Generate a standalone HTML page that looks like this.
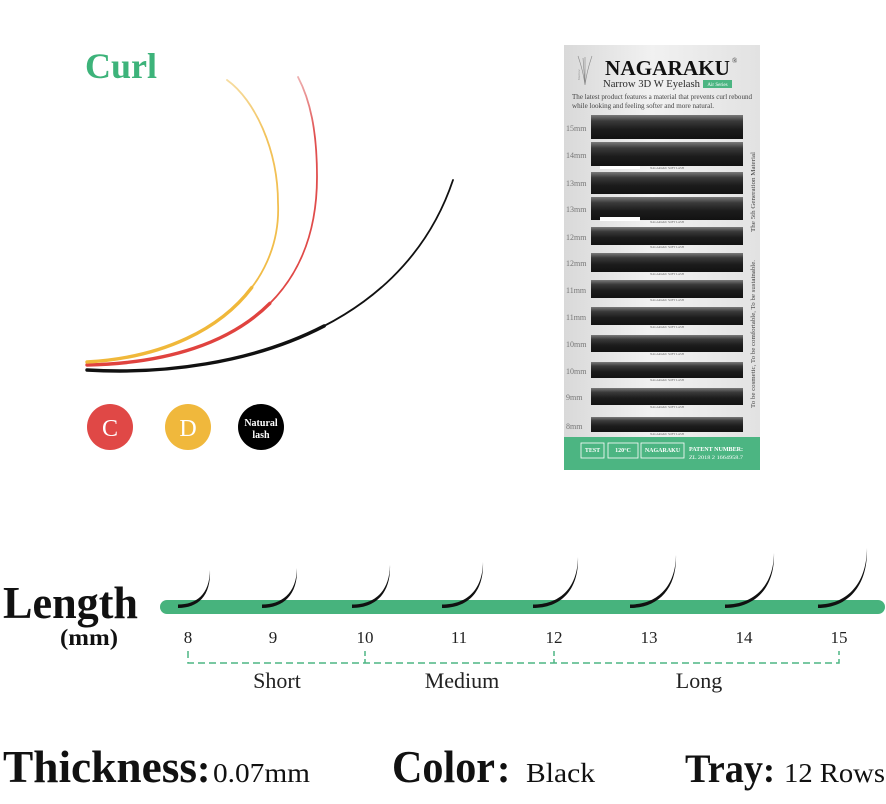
<!DOCTYPE html>
<html><head><meta charset="utf-8"><style>
html,body{margin:0;padding:0;background:#fff;}
svg{display:block;}
text{font-family:"Liberation Serif",serif;}
</style></head><body>
<svg width="886" height="804" viewBox="0 0 886 804" xmlns="http://www.w3.org/2000/svg">
<defs>
<linearGradient id="cardbg" x1="0" y1="0" x2="1" y2="0">
<stop offset="0" stop-color="#d9d9d9"/><stop offset="0.45" stop-color="#f1f1f1"/><stop offset="1" stop-color="#e2e2e2"/>
</linearGradient>
<linearGradient id="row" x1="0" y1="0" x2="0" y2="1">
<stop offset="0" stop-color="#7a7a7a"/><stop offset="0.25" stop-color="#3a3a3a"/><stop offset="0.6" stop-color="#1c1c1c"/><stop offset="1" stop-color="#121212"/>
</linearGradient>
<linearGradient id="fadeY" x1="0" y1="1" x2="0" y2="0">
<stop offset="0" stop-color="#f0b83a"/><stop offset="0.8" stop-color="#f2c25a"/><stop offset="1" stop-color="#f6dca0"/>
</linearGradient>
<linearGradient id="fadeR" x1="0" y1="1" x2="0" y2="0">
<stop offset="0" stop-color="#e0433f"/><stop offset="0.8" stop-color="#e05050"/><stop offset="1" stop-color="#eeb0b0"/>
</linearGradient>
</defs>

<!-- Curl title -->
<text x="85" y="78" font-size="36" font-weight="bold" fill="#3db37a">Curl</text>

<!-- Curves -->
<path d="M87,370 C220,378 400,338 453,180" fill="none" stroke="#111" stroke-width="1.8" stroke-linecap="round"/>
<path d="M87,370 C220,378 400,338 453,180" pathLength="100" stroke-dasharray="55 200" fill="none" stroke="#111" stroke-width="3.4" stroke-linecap="round"/>
<path d="M87,365 C230,362 317,300 317,177 C317,130 310,100 298,77" fill="none" stroke="url(#fadeR)" stroke-width="1.8" stroke-linecap="round"/>
<path d="M87,365 C230,362 317,300 317,177 C317,130 310,100 298,77" pathLength="100" stroke-dasharray="45 200" fill="none" stroke="#e0433f" stroke-width="3.4" stroke-linecap="round"/>
<path d="M87,362 C210,355 282,285 278,203 C278,150 255,100 227,80" fill="none" stroke="url(#fadeY)" stroke-width="1.8" stroke-linecap="round"/>
<path d="M87,362 C210,355 282,285 278,203 C278,150 255,100 227,80" pathLength="100" stroke-dasharray="45 200" fill="none" stroke="#f0b83a" stroke-width="3.4" stroke-linecap="round"/>

<!-- Circles -->
<circle cx="110" cy="427" r="23" fill="#e04846"/>
<text x="110" y="436" font-size="24" fill="#fff" text-anchor="middle">C</text>
<circle cx="188" cy="427" r="23" fill="#f0b83c"/>
<text x="188" y="436" font-size="24" fill="#fff" text-anchor="middle">D</text>
<circle cx="261" cy="427" r="23" fill="#000"/>
<text x="261" y="426" font-size="10" font-weight="bold" fill="#fff" text-anchor="middle">Natural</text>
<text x="261" y="438" font-size="10" font-weight="bold" fill="#fff" text-anchor="middle">lash</text>

<!-- Product card -->
<rect x="564" y="45" width="196" height="392" fill="url(#cardbg)"/>
<g stroke="#888" stroke-width="0.6" fill="none">
<path d="M585,85 L585,57 M585,85 C583,70 580,62 578,56 M585,85 C587,70 590,62 592,56 M585,85 L583,58"/>
</g>
<text x="0" y="0" font-size="3.5" fill="#888" transform="translate(580,80) rotate(-90)">Narrow</text>
<text x="605" y="75" font-size="21" font-weight="bold" fill="#111" textLength="125" lengthAdjust="spacingAndGlyphs">NAGARAKU</text>
<text x="732" y="63" font-size="7" fill="#333">®</text>
<text x="603" y="87" font-size="11" fill="#2a2a2a" textLength="97" lengthAdjust="spacingAndGlyphs">Narrow 3D W Eyelash</text>
<rect x="703" y="80" width="29" height="8" fill="#4cb582"/>
<text x="717.5" y="86" font-size="5" fill="#fff" text-anchor="middle">Air Series</text>
<text x="572" y="99" font-size="7.4" fill="#444" textLength="180" lengthAdjust="spacingAndGlyphs">The latest product features a material that prevents curl rebound</text>
<text x="572" y="108" font-size="7.4" fill="#444" textLength="142" lengthAdjust="spacingAndGlyphs">while looking and feeling softer and more natural.</text>

<g fill="url(#row)">
<rect x="591" y="115" width="152" height="24"/>
<rect x="591" y="142" width="152" height="24"/>
<rect x="591" y="172" width="152" height="22"/>
<rect x="591" y="197" width="152" height="23"/>
<rect x="591" y="227" width="152" height="18"/>
<rect x="591" y="253" width="152" height="19"/>
<rect x="591" y="280" width="152" height="18"/>
<rect x="591" y="307" width="152" height="18"/>
<rect x="591" y="335" width="152" height="17"/>
<rect x="591" y="362" width="152" height="16"/>
<rect x="591" y="388" width="152" height="17"/>
<rect x="591" y="417" width="152" height="15"/>
</g>
<rect x="600" y="217" width="40" height="4" fill="#fff"/>
<rect x="600" y="166" width="40" height="3" fill="#fff"/>
<g font-size="3" fill="#666" text-anchor="middle">
<text x="667" y="169">NAGARAKU SOFT LASH</text>
<text x="667" y="223">NAGARAKU SOFT LASH</text>
<text x="667" y="248">NAGARAKU SOFT LASH</text>
<text x="667" y="275">NAGARAKU SOFT LASH</text>
<text x="667" y="301">NAGARAKU SOFT LASH</text>
<text x="667" y="328">NAGARAKU SOFT LASH</text>
<text x="667" y="355">NAGARAKU SOFT LASH</text>
<text x="667" y="381">NAGARAKU SOFT LASH</text>
<text x="667" y="408">NAGARAKU SOFT LASH</text>
<text x="667" y="435">NAGARAKU SOFT LASH</text>
</g>
<g font-size="8" fill="#777">
<text x="566" y="131">15mm</text>
<text x="566" y="158">14mm</text>
<text x="566" y="186">13mm</text>
<text x="566" y="212">13mm</text>
<text x="566" y="240">12mm</text>
<text x="566" y="266">12mm</text>
<text x="566" y="293">11mm</text>
<text x="566" y="320">11mm</text>
<text x="566" y="347">10mm</text>
<text x="566" y="374">10mm</text>
<text x="566" y="400">9mm</text>
<text x="566" y="429">8mm</text>
</g>
<text x="0" y="0" font-size="6.5" fill="#444" transform="translate(755,232) rotate(-90)" textLength="80" lengthAdjust="spacingAndGlyphs">The 5th Generation Material</text>
<text x="0" y="0" font-size="6.5" fill="#444" transform="translate(755,408) rotate(-90)" textLength="148" lengthAdjust="spacingAndGlyphs">To be cosmetic, To be comfortable, To be sustainable.</text>

<rect x="564" y="437" width="196" height="33" fill="#4cb582"/>
<g fill="none" stroke="#fff" stroke-width="0.8">
<rect x="581" y="443" width="23" height="15"/>
<rect x="608" y="443" width="30" height="15"/>
<rect x="641" y="443" width="43" height="15"/>
</g>
<g fill="#fff" font-weight="bold">
<text x="592.5" y="452" font-size="6" text-anchor="middle">TEST</text>
<text x="623" y="452" font-size="6" text-anchor="middle">120°C</text>
<text x="662.5" y="452" font-size="6" text-anchor="middle">NAGARAKU</text>
<text x="689" y="451" font-size="6.2" textLength="54" lengthAdjust="spacingAndGlyphs">PATENT NUMBER:</text>
</g>
<text x="689" y="459" font-size="5.5" fill="#fff" textLength="54" lengthAdjust="spacingAndGlyphs">ZL 2018 2 1664958.7</text>

<!-- Length section -->
<text x="3" y="618" font-size="45" font-weight="bold" fill="#111" textLength="135" lengthAdjust="spacingAndGlyphs">Length</text>
<text x="60" y="645" font-size="23" font-weight="bold" fill="#111" textLength="58" lengthAdjust="spacingAndGlyphs">(mm)</text>

<line x1="167" y1="607" x2="878" y2="607" stroke="#47b37d" stroke-width="14" stroke-linecap="round"/>

<g fill="#111">
<path d="M178,604.5 C196,604.5 209.5,595 210,570 C211,596 198,608 178,608 Z"/>
<path d="M262,604.5 C281,604.5 296.5,594 297,568 C298,595 283,608 262,608 Z"/>
<path d="M352,604.5 C373,604.5 389.5,593 390,565 C391,594 375,608 352,608 Z"/>
<path d="M442,604.5 C465,604.5 482.5,592 483,562 C484,593 467,608 442,608 Z"/>
<path d="M533,604.5 C558,604.5 577.5,590 578,557 C579,591 560,608 533,608 Z"/>
<path d="M630,604.5 C655,604.5 675.5,589 676,555 C677,590 657,608 630,608 Z"/>
<path d="M725,604.5 C752,604.5 773.5,588 774,553 C775,589 754,608 725,608 Z"/>
<path d="M818,604.5 C845,604.5 866.5,586 867,548 C868,587 847,608 818,608 Z"/>
</g>

<g font-size="17" fill="#222" text-anchor="middle">
<text x="188" y="643">8</text>
<text x="273" y="643">9</text>
<text x="365" y="643">10</text>
<text x="459" y="643">11</text>
<text x="554" y="643">12</text>
<text x="649" y="643">13</text>
<text x="744" y="643">14</text>
<text x="839" y="643">15</text>
</g>

<g fill="none" stroke="#4db584" stroke-width="1.5" stroke-dasharray="7,4">
<path d="M188,651 V663 H839 V651"/>
</g>
<g stroke="#4db584" stroke-width="1.5">
<line x1="365" y1="651" x2="365" y2="656"/>
<line x1="365" y1="659" x2="365" y2="663"/>
<line x1="554" y1="651" x2="554" y2="656"/>
<line x1="554" y1="659" x2="554" y2="663"/>
</g>

<g font-size="22" fill="#222" text-anchor="middle">
<text x="277" y="688">Short</text>
<text x="462" y="688">Medium</text>
<text x="699" y="688">Long</text>
</g>

<!-- Bottom specs -->
<g fill="#111">
<text x="3" y="782" font-size="45" font-weight="bold" textLength="194" lengthAdjust="spacingAndGlyphs">Thickness</text>
<text x="197" y="782" font-size="40" font-weight="bold">:</text>
<text x="213" y="782" font-size="27" textLength="97" lengthAdjust="spacingAndGlyphs">0.07mm</text>
<text x="392" y="782" font-size="45" font-weight="bold" textLength="103" lengthAdjust="spacingAndGlyphs">Color</text>
<text x="497" y="782" font-size="40" font-weight="bold">:</text>
<text x="526" y="782" font-size="27" textLength="69" lengthAdjust="spacingAndGlyphs">Black</text>
<text x="685" y="782" font-size="40" font-weight="bold" textLength="78" lengthAdjust="spacingAndGlyphs">Tray</text>
<text x="763" y="782" font-size="36" font-weight="bold">:</text>
<text x="784" y="782" font-size="27" textLength="101" lengthAdjust="spacingAndGlyphs">12 Rows</text>
</g>
</svg>
</body></html>
